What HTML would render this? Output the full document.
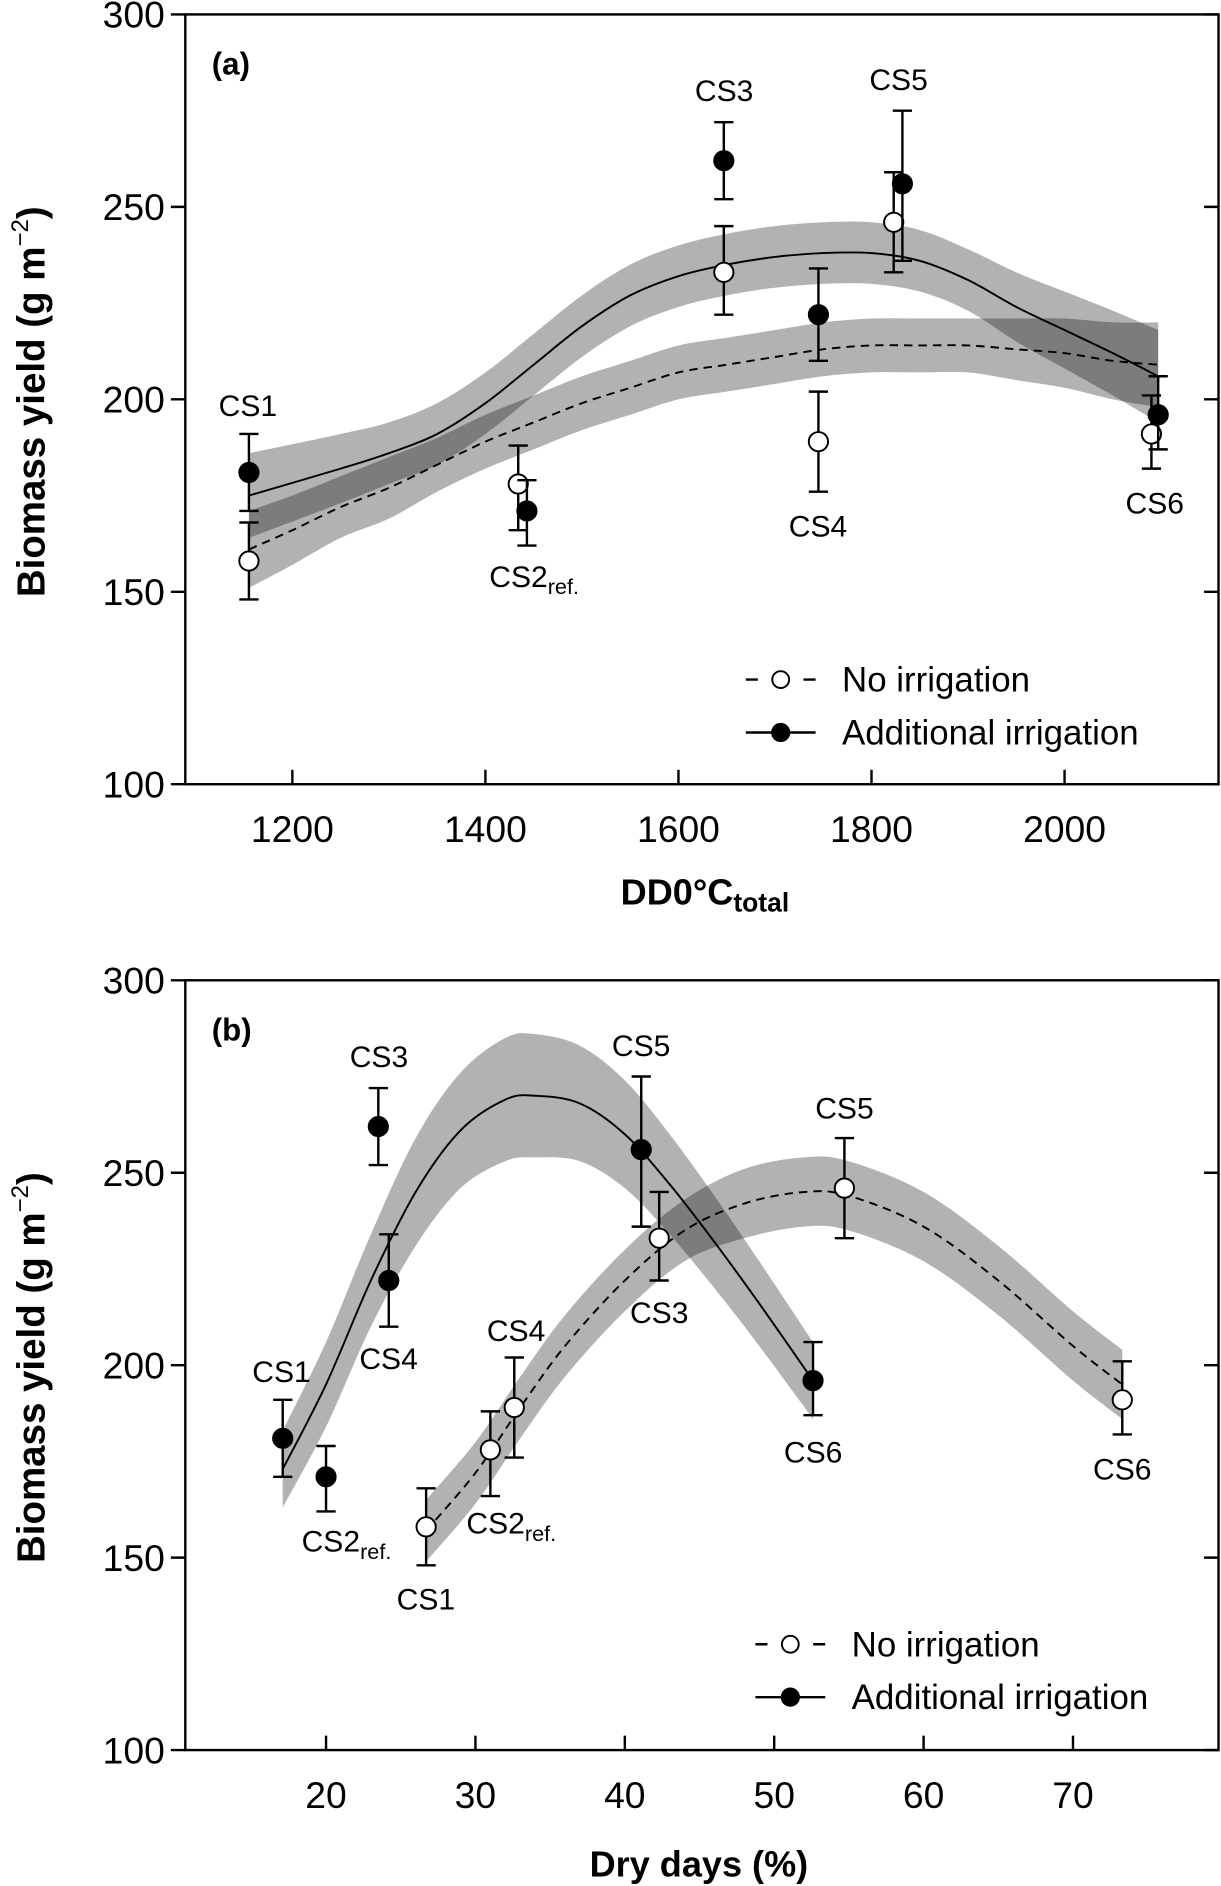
<!DOCTYPE html>
<html><head><meta charset="utf-8"><style>
html,body{margin:0;padding:0;background:#fff}
svg{display:block}
text{font-family:"Liberation Sans",Arial,sans-serif;fill:#000}
</style></head><body>
<svg id="c" width="1221" height="1886" viewBox="0 0 1015 1568" xmlns="http://www.w3.org/2000/svg"></svg>
<script>
// ---- Panel (a) data ----
const aNoX=[1155,1434,1647,1745,1823,2090];
const aNoY=[158,178,233,189,246,191];
const aNoLo=[148,166,222,176,233,182];
const aNoHi=[168,188,245,202,259,201];
const aIrX=[1155,1443,1647,1745,1832,2097];
const aIrY=[181,171,262,222,256,196];
const aIrLo=[171,162,252,210,236,187];
const aIrHi=[191,179,272,234,275,206];
const aSolX=[1155,1250,1300,1350,1400,1450,1500,1550,1600,1650,1700,1750,1800,1850,1900,1950,2000,2050,2097];
const aSolY=[175,182,186,191,199,209,219,227,232,235,237,238,238,236,231,224,218,212,206];
const aSolW=[11,9,8,8,8,8,8,8,8,8,8,8,8,8,8,9,10,11,12];
const aDshX=[1155,1200,1250,1300,1350,1400,1450,1500,1550,1600,1650,1700,1750,1800,1850,1900,1950,2000,2050,2097];
const aDshY=[161,166,172,177,183,189,194,199,203,207,209,211,213,214,214,214,213,212,210,209];
const aDshW=[10,9,8,8,7,7,7,7,7,7,7,7,7,7,7,7,8,9,10,11];
const aXTicks=[1200,1400,1600,1800,2000];
// ---- Panel (b) data ----
const bIrX=[17.1,20,23.5,24.2,41.1,52.6];
const bIrY=[181,171,262,222,256,196];
const bIrLo=[171,162,252,210,236,187];
const bIrHi=[191,179,272,234,275,206];
const bNoX=[26.7,31.0,32.6,42.3,54.7,73.3];
const bNoY=[158,178,189,233,246,191];
const bNoLo=[148,166,176,222,233,182];
const bNoHi=[168,188,202,245,259,201];
const bSolX=[17.1,20,23,26,29,32,34,37,40,43,46,49,52.6];
const bSolY=[173,195,222,245,261,269,270,268,260,247,232,216,196];
const bSolW=[10,11,12,14,15,16,16,15,14,13,12,11,10];
const bDshX=[26.7,30,33,36,40,44,48,52,55,60,65,70,73.3];
const bDshY=[157,172,189,205,222,235,242,245,244,236,222,205,195];
const bDshW=[8,8,8,8,8,8,9,9,9,9,9,9,9];
const bXTicks=[20,30,40,50,60,70];
const yTicks=[100,150,200,250,300];

const NS="http://www.w3.org/2000/svg";
const svg=document.getElementById('c');
function mk(tag,attrs,parent){const e=document.createElementNS(NS,tag);for(const k in attrs)e.setAttribute(k,attrs[k]);(parent||svg).appendChild(e);return e;}
// Catmull-Rom smooth path through points
function smooth(p,start){
  let d=start?`M${p[0][0]},${p[0][1]}`:`L${p[0][0]},${p[0][1]}`;
  for(let i=0;i<p.length-1;i++){
    const p0=p[Math.max(i-1,0)],p1=p[i],p2=p[i+1],p3=p[Math.min(i+2,p.length-1)];
    const c1=[p1[0]+(p2[0]-p0[0])/6,p1[1]+(p2[1]-p0[1])/6];
    const c2=[p2[0]-(p3[0]-p1[0])/6,p2[1]-(p3[1]-p1[1])/6];
    d+=`C${c1[0]},${c1[1]} ${c2[0]},${c2[1]} ${p2[0]},${p2[1]}`;
  }
  return d;
}

function panel(cfg){
  const g=mk('g',{});
  
  
  const X=v=>cfg.x0+(v-cfg.xv0)*cfg.xs;
  const Y=v=>cfg.top+(300-v)*3.2;
  const L=154,R=1013,T=cfg.top,B=cfg.top+640;
  function band(xs,ys,ws,nm){
    const up=xs.map((x,i)=>[X(x),Y(ys[i]+ws[i])]);
    const dn=xs.map((x,i)=>[X(x),Y(ys[i]-ws[i])]).reverse();
    const p=mk('path',{d:smooth(up,true)+smooth(dn,false)+'Z',fill:'#000','fill-opacity':0.3,stroke:'none'},g);
    
    
  }
  band(cfg.solX,cfg.solY,cfg.solW,'irrigation-confidence-band');
  band(cfg.dshX,cfg.dshY,cfg.dshW,'no-irrigation-confidence-band');
  const ls=mk('path',{d:smooth(cfg.solX.map((x,i)=>[X(x),Y(cfg.solY[i])]),true),fill:'none',stroke:'#000','stroke-width':1.6},g);
  
  
  const ld=mk('path',{d:smooth(cfg.dshX.map((x,i)=>[X(x),Y(cfg.dshY[i])]),true),fill:'none',stroke:'#000','stroke-width':1.6,'stroke-dasharray':'7,5'},g);
  
  
  function pts(xs,ys,lo,hi,filled,nm){
    xs.forEach((x,i)=>{
      const px=X(x);
      mk('path',{d:`M${px},${Y(lo[i])}V${Y(hi[i])}M${px-8},${Y(lo[i])}h16M${px-8},${Y(hi[i])}h16`,stroke:'#000','stroke-width':2,fill:'none'},g);
      const c=mk('circle',{cx:px,cy:Y(ys[i]),r:8,fill:filled?'#000':'#fff',stroke:'#000','stroke-width':1.6},g);
      
      
    });
  }
  pts(cfg.noX,cfg.noY,cfg.noLo,cfg.noHi,false,'no-irrigation-point');
  pts(cfg.irX,cfg.irY,cfg.irLo,cfg.irHi,true,'irrigation-point');
  const fr=mk('rect',{x:L,y:T,width:R-L,height:B-T,fill:'none',stroke:'#000','stroke-width':2},g);
  
  
  yTicks.forEach(v=>{
    mk('path',{d:`M${L},${Y(v)}h-12M${R},${Y(v)}h-12`,stroke:'#000','stroke-width':2},g);
    const t=mk('text',{x:137,y:Y(v)+11,'text-anchor':'end','font-size':31},g);t.textContent=v;
    
    
  });
  cfg.ticks.forEach(v=>{
    mk('path',{d:`M${X(v)},${B}v-12`,stroke:'#000','stroke-width':2},g);
    const t=mk('text',{x:X(v),y:B+48,'text-anchor':'middle','font-size':31},g);t.textContent=v;
    
    
  });
  const yt=mk('text',{x:0,y:0,transform:`translate(37,${T+322}) rotate(-90)`,'text-anchor':'middle','font-size':32,'font-weight':'bold'},g);
  yt.innerHTML='Biomass yield (g m<tspan dy="-14" font-size="20" font-weight="normal">\u22122</tspan><tspan dy="14">)</tspan>';
  
  
  const xt=mk('text',{x:cfg.xtX,y:B+cfg.xtDy,'text-anchor':'middle','font-size':30,'font-weight':'bold'},g);
  xt.innerHTML=cfg.xtitle;
  
  
  const pl=mk('text',{x:176,y:T+50,'font-size':26,'font-weight':'bold'},g);pl.textContent=cfg.label;
  
  
  cfg.ann.forEach(a=>{
    const t=mk('text',{x:a[1],y:a[2],'text-anchor':'middle','font-size':25},g);
    t.innerHTML=a[0]=='CS2'?'CS2<tspan font-size="18" dy="6">ref.</tspan>':a[0];
    
    
  });
  const lg=mk('g',{},g);
  
  
  const [lx,ly]=cfg.leg;
  mk('path',{d:`M${lx},${ly}h10M${lx+48},${ly}h10`,stroke:'#000','stroke-width':2},lg);
  mk('circle',{cx:lx+29,cy:ly,r:7,fill:'#fff',stroke:'#000','stroke-width':1.6},lg);
  mk('path',{d:`M${lx},${ly+44}h58`,stroke:'#000','stroke-width':2},lg);
  mk('circle',{cx:lx+29,cy:ly+44,r:8,fill:'#000'},lg);
  const t1=mk('text',{x:lx+80,y:ly+10,'font-size':29},lg);t1.textContent='No irrigation';
  const t2=mk('text',{x:lx+80,y:ly+54,'font-size':29},lg);t2.textContent='Additional irrigation';
}
panel({name:'panel-a',top:12,x0:243,xv0:1200,xs:0.8025,ticks:aXTicks,label:'(a)',
  noX:aNoX,noY:aNoY,noLo:aNoLo,noHi:aNoHi,irX:aIrX,irY:aIrY,irLo:aIrLo,irHi:aIrHi,
  solX:aSolX,solY:aSolY,solW:aSolW,dshX:aDshX,dshY:aDshY,dshW:aDshW,
  xtitle:'DD0°C<tspan font-size="22" dy="6">total</tspan>',xtX:586,xtDy:100,
  ann:[['CS1',206,346],['CS2',444,488],['CS3',602,84],['CS4',680,446],['CS5',747,75],['CS6',960,427]],
  leg:[620,565]});
panel({name:'panel-b',top:815,x0:271,xv0:20,xs:12.42,ticks:bXTicks,label:'(b)',
  noX:bNoX,noY:bNoY,noLo:bNoLo,noHi:bNoHi,irX:bIrX,irY:bIrY,irLo:bIrLo,irHi:bIrHi,
  solX:bSolX,solY:bSolY,solW:bSolW,dshX:bDshX,dshY:bDshY,dshW:bDshW,
  xtitle:'Dry days (%)',xtX:581,xtDy:105,
  ann:[['CS1',234,1149],['CS2',288,1290],['CS3',315,887],['CS4',323,1138],['CS5',533,878],['CS6',676,1216],
       ['CS1',354,1338],['CS2',425,1275],['CS4',429,1115],['CS3',548,1100],['CS5',702,930],['CS6',933,1230]],
  leg:[628,1367]});
</script>
</body></html>
